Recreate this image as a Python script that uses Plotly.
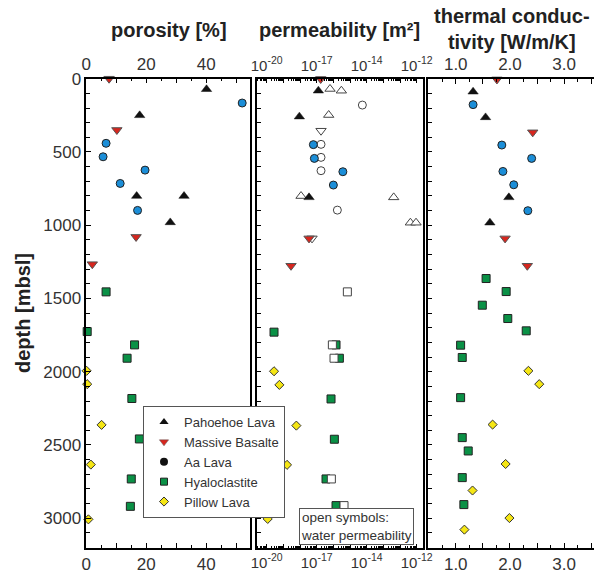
import numpy as np
import plotly.graph_objects as go

# ---------------- data ----------------
# porosity panel
por_pah = [40.1, 17.8, 16.8, 32.6, 28.0]
por_pah_d = [72, 250, 801, 801, 981]
por_mas = [7.6, 10.2, 16.6, 2.0]
por_mas_d = [0, 350, 1080, 1266]
por_aa = [52.0, 6.6, 5.6, 19.6, 11.3, 17.1]
por_aa_d = [166, 441, 533, 624, 715, 899]
por_hya = [6.6, 0.3, 16.1, 13.6, 15.2, 17.7, 15.0, 14.7]
por_hya_d = [1455, 1726, 1817, 1908, 2183, 2459, 2732, 2919]
por_pil = [0.1, 0.3, 5.1, 1.5, 0.7]
por_pil_d = [1994, 2085, 2363, 2634, 3008]

# permeability panel (log10 of m^2); gas = filled, water = open symbols
perm_pah_log = [-16.9, -18.04, -17.46]
perm_pah_d = [82, 259, 810]
permw_pah_log = [-16.2, -15.52, -16.28, -17.94, -12.38, -11.38, -11.04]
permw_pah_d = [70, 82, 248, 801, 810, 983, 983]
perm_mas_log = [-16.76, -17.46, -18.54]
perm_mas_d = [2, 1090, 1277]
permw_mas_log = [-16.28, -16.74, -17.28]
permw_mas_d = [-5, 355, 1090]
perm_aa_log = [-17.2, -17.14, -15.43, -16.0]
perm_aa_d = [450, 544, 635, 726]
permw_aa_log = [-14.26, -16.74, -16.74, -16.74, -15.76]
permw_aa_d = [180, 448, 537, 628, 897]
perm_hya_log = [-19.56, -15.84, -15.64, -16.14, -15.94, -16.44, -15.84]
perm_hya_d = [1730, 1817, 1908, 2186, 2461, 2732, 2914]
permw_hya_log = [-15.16, -16.06, -15.96, -16.12, -15.36]
permw_hya_d = [1455, 1817, 1908, 2732, 2914]
perm_pil_log = [-19.56, -19.24, -18.22, -18.78, -19.94]
perm_pil_d = [1997, 2090, 2368, 2636, 3005]

# thermal conductivity panel
tc_pah = [1.32, 1.55, 1.98, 1.63]
tc_pah_d = [89, 264, 810, 983]
tc_mas = [1.76, 2.42, 1.91, 2.32]
tc_mas_d = [5, 366, 1090, 1277]
tc_aa = [1.32, 1.85, 2.40, 1.87, 2.07, 2.33]
tc_aa_d = [177, 453, 544, 633, 724, 901]
tc_hya = [1.56, 1.93, 1.49, 1.96, 2.30, 1.09, 1.12, 1.09, 1.12, 1.23, 1.12, 1.15]
tc_hya_d = [1364, 1453, 1546, 1637, 1721, 1819, 1903, 2177, 2450, 2541, 2723, 2907]
tc_pil = [2.34, 2.54, 1.68, 1.92, 1.31, 1.99, 1.16]
tc_pil_d = [1994, 2085, 2361, 2630, 2811, 2999, 3078]

lith_names = ["Pahoehoe Lava", "Massive Basalte", "Aa Lava", "Hyaloclastite", "Pillow Lava"]
por_ticks = [0, 10, 20, 30, 40, 50]
por_ticktext = ["0", "", "20", "", "40", ""]
perm_tick_exp = [-20, -19, -18, -17, -16, -15, -14, -13, -12, -11]
perm_ticktext = ["10<sup>-20</sup>", "", "", "10<sup>-17</sup>", "", "", "10<sup>-14</sup>", "", "", "10<sup>-12</sup>"]
tc_ticks = [0.5, 1.0, 1.5, 2.0, 2.5, 3.0, 3.5]
tc_ticktext = ["", "1.0", "", "2.0", "", "3.0", ""]
depth_ticks = [0, 500, 1000, 1500, 2000, 2500, 3000]

# ---------------- styles ----------------
FONT = "Liberation Sans, Arial, sans-serif"
styles = {
    "pah": dict(symbol="triangle-up", color="#111111", size=9, line=dict(color="#111111", width=0.5)),
    "mas": dict(symbol="triangle-down", color="#d7261e", size=9, line=dict(color="#555555", width=1)),
    "aa": dict(symbol="circle", color="#1b8ed8", size=8, line=dict(color="#222222", width=1)),
    "hya": dict(symbol="square", color="#0a9146", size=8, line=dict(color="#222222", width=1)),
    "pil": dict(symbol="diamond", color="#f5e614", size=7, line=dict(color="#333333", width=1)),
}
open_styles = {
    "pah": dict(symbol="triangle-up", color="white", size=9, line=dict(color="#444444", width=1)),
    "mas": dict(symbol="triangle-down", color="white", size=9, line=dict(color="#444444", width=1)),
    "aa": dict(symbol="circle", color="white", size=8, line=dict(color="#444444", width=1)),
    "hya": dict(symbol="square", color="white", size=8, line=dict(color="#444444", width=1)),
}

fig = go.Figure()


def add(x, y, st, xa, ya):
    fig.add_trace(go.Scatter(x=x, y=y, mode="markers", marker=st, xaxis=xa, yaxis=ya,
                             showlegend=False, cliponaxis=False, hoverinfo="skip"))


# porosity
add(por_pah, por_pah_d, styles["pah"], "x", "y")
add(por_mas, por_mas_d, styles["mas"], "x", "y")
add(por_aa, por_aa_d, styles["aa"], "x", "y")
add(por_hya, por_hya_d, styles["hya"], "x", "y")
add(por_pil, por_pil_d, styles["pil"], "x", "y")

# permeability
p10 = lambda v: list(np.power(10.0, np.array(v)))
add(p10(permw_pah_log), permw_pah_d, open_styles["pah"], "x2", "y2")
add(p10(perm_pah_log), perm_pah_d, styles["pah"], "x2", "y2")
add(p10(permw_mas_log), permw_mas_d, open_styles["mas"], "x2", "y2")
add(p10(perm_mas_log), perm_mas_d, styles["mas"], "x2", "y2")
add(p10(permw_aa_log), permw_aa_d, open_styles["aa"], "x2", "y2")
add(p10(perm_aa_log), perm_aa_d, styles["aa"], "x2", "y2")
add(p10(perm_hya_log), perm_hya_d, styles["hya"], "x2", "y2")
add(p10(permw_hya_log), permw_hya_d, open_styles["hya"], "x2", "y2")
add(p10(perm_pil_log), perm_pil_d, styles["pil"], "x2", "y2")

# thermal conductivity
add(tc_pah, tc_pah_d, styles["pah"], "x3", "y3")
add(tc_mas, tc_mas_d, styles["mas"], "x3", "y3")
add(tc_aa, tc_aa_d, styles["aa"], "x3", "y3")
add(tc_hya, tc_hya_d, styles["hya"], "x3", "y3")
add(tc_pil, tc_pil_d, styles["pil"], "x3", "y3")

# empty traces so that the top axes are drawn
for xa, ya in [("x4", "y"), ("x5", "y2"), ("x6", "y3")]:
    fig.add_trace(go.Scatter(x=[None], y=[None], xaxis=xa, yaxis=ya, showlegend=False))

# legend entries (legend symbols as in the reference)
legend_markers = [
    dict(symbol="triangle-up", color="#111111", size=8),
    dict(symbol="triangle-down", color="#d7261e", size=8, line=dict(color="#555555", width=0.5)),
    dict(symbol="circle", color="#111111", size=8),
    dict(symbol="square", color="#0a9146", size=7, line=dict(color="#222222", width=1)),
    dict(symbol="diamond", color="#f5e614", size=7, line=dict(color="#333333", width=1)),
]
for name, mk in zip(lith_names, legend_markers):
    fig.add_trace(go.Scatter(x=[None], y=[None], mode="markers", marker=mk, name=name,
                             xaxis="x", yaxis="y", showlegend=True))

W, H = 594, 578
def px(v):
    return v / W
def py(v):
    return 1 - v / H

dom1 = [px(86.3), px(250.3)]
dom2 = [px(256.7), px(422.7)]
dom3 = [px(428.3), 1.0]
ydom = [py(547.5), py(78.7)]

tickfont = dict(family=FONT, size=17, color="#333333")
permfont = dict(family=FONT, size=15, color="#333333")
common_x = dict(showline=True, linecolor="black", linewidth=1.5, ticks="inside", ticklen=5,
                tickcolor="black", showgrid=False, zeroline=False, tickfont=tickfont, automargin=False)
common_y = dict(domain=ydom, range=[3200, 0], showline=True, linecolor="black", ticks="inside",
                tickcolor="black", tickvals=depth_ticks, showgrid=False, zeroline=False, automargin=False,
                minor=dict(dtick=100, ticks="inside", ticklen=4, tickcolor="black"))

perm_range = [-20.6, -10.64]
perm_minor = [k * 10.0 ** e for e in range(-21, -10) for k in range(2, 10)]
perm_major = [10.0 ** e for e in perm_tick_exp]

fig.update_layout(
    width=W, height=H, margin=dict(l=0, r=0, t=0, b=0, autoexpand=False),
    paper_bgcolor="white", plot_bgcolor="white",
    font=dict(family=FONT, color="#222222"),
    xaxis=dict(common_x, domain=dom1, anchor="y", side="bottom", range=[0, 54.7],
               tickmode="array", tickvals=por_ticks, ticktext=por_ticktext,
               minor=dict(dtick=5, ticks="inside", ticklen=3, tickcolor="black")),
    xaxis4=dict(common_x, overlaying="x", anchor="y", side="top", range=[0, 54.7],
                tickmode="array", tickvals=por_ticks, ticktext=por_ticktext,
                minor=dict(dtick=5, ticks="inside", ticklen=3, tickcolor="black")),
    xaxis2=dict(common_x, domain=dom2, anchor="y2", side="bottom", type="log", range=perm_range,
                tickmode="array", tickvals=perm_major, ticktext=perm_ticktext,
                ticklen=4, linewidth=2, tickfont=permfont,
                minor=dict(tickmode="array", tickvals=perm_minor, ticks="inside", ticklen=2, tickcolor="black")),
    xaxis5=dict(common_x, overlaying="x2", anchor="y2", side="top", type="log", range=perm_range,
                tickmode="array", tickvals=perm_major, ticktext=perm_ticktext,
                ticklen=4, linewidth=2, tickfont=permfont,
                minor=dict(tickmode="array", tickvals=perm_minor, ticks="inside", ticklen=2, tickcolor="black")),
    xaxis3=dict(common_x, domain=dom3, anchor="y3", side="bottom", range=[0.494, 3.55],
                tickmode="array", tickvals=tc_ticks, ticktext=tc_ticktext, linewidth=2,
                minor=dict(dtick=0.25, ticks="inside", ticklen=3, tickcolor="black")),
    xaxis6=dict(common_x, overlaying="x3", anchor="y3", side="top", range=[0.494, 3.55],
                tickmode="array", tickvals=tc_ticks, ticktext=tc_ticktext, linewidth=2,
                minor=dict(dtick=0.25, ticks="inside", ticklen=3, tickcolor="black")),
    yaxis=dict(common_y, anchor="x", mirror=True, linewidth=1.5, ticklen=5, tickfont=tickfont),
    yaxis2=dict(common_y, anchor="x2", mirror=True, linewidth=2, ticklen=4, showticklabels=False),
    yaxis3=dict(common_y, anchor="x3", mirror=False, linewidth=2, ticklen=4, showticklabels=False),
    legend=dict(x=px(143), y=py(406), xanchor="left", yanchor="top",
                bgcolor="white", bordercolor="#555555", borderwidth=1,
                font=dict(family=FONT, size=13, color="#333333"),
                itemwidth=30, tracegroupgap=0),
    showlegend=True,
)

annotations = [
    dict(text="<b>porosity [%]</b>", x=px(168.5), y=py(30), font=dict(size=20, color="#222222")),
    dict(text="<b>permeability [m²]</b>", x=px(340), y=py(30), font=dict(size=20, color="#222222")),
    dict(text="<b>thermal conduc-<br>tivity [W/m/K]</b>", x=px(512), y=py(28.5), font=dict(size=20, color="#222222")),
    dict(text="<b>depth [mbsl]</b>", x=px(23), y=py(313), textangle=-90, font=dict(size=20, color="#222222")),
    dict(text="open symbols:<br>water permeability", x=px(298.5), y=py(526), xanchor="left",
         align="left", bordercolor="#555555", borderwidth=1, borderpad=1, bgcolor="white",
         font=dict(size=13.5, color="#333333")),
]
for a in annotations:
    a.setdefault("xanchor", "center")
    a.update(xref="paper", yref="paper", showarrow=False, yanchor="middle")
    a["font"]["family"] = FONT
fig.update_layout(annotations=annotations)

# remove the browser's default page margin so the 594x578 figure fills the window
fig.write_html("out.html", config={"displayModeBar": False},
               post_script="document.body.style.margin='0';document.body.style.overflow='hidden';")
